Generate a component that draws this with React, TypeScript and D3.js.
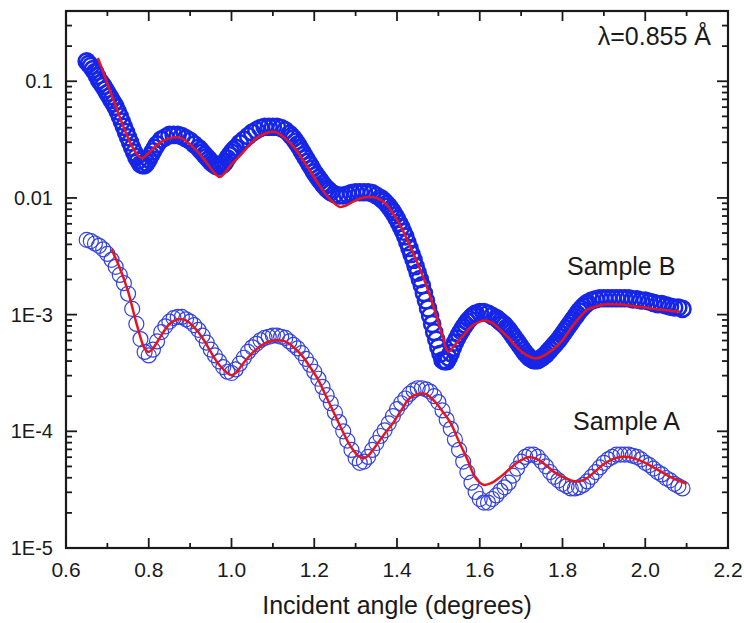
import React, { useEffect, useRef } from 'react';
import * as d3 from 'd3';

// measured reflectivity, [incident angle (deg), intensity]
const sampleA: [number, number][] = [
  [0.65, 4.37e-3], [0.66, 4.27e-3], [0.67, 4.07e-3], [0.68, 3.89e-3], [0.69, 3.63e-3], [0.70, 3.31e-3], [0.71, 2.95e-3], [0.72, 2.57e-3], [0.73, 2.19e-3], [0.74, 1.86e-3],
  [0.75, 1.51e-3], [0.76, 1.12e-3], [0.77, 8.32e-4], [0.78, 6.17e-4], [0.79, 4.79e-4], [0.80, 4.47e-4], [0.81, 5.01e-4], [0.82, 5.89e-4], [0.83, 7.08e-4], [0.84, 7.94e-4],
  [0.85, 8.71e-4], [0.86, 9.33e-4], [0.87, 9.55e-4], [0.88, 9.55e-4], [0.89, 9.12e-4], [0.90, 8.71e-4], [0.91, 8.13e-4], [0.92, 7.41e-4], [0.93, 6.61e-4], [0.94, 5.75e-4],
  [0.95, 5.01e-4], [0.96, 4.47e-4], [0.97, 3.98e-4], [0.98, 3.55e-4], [0.99, 3.24e-4], [1.00, 3.16e-4], [1.01, 3.39e-4], [1.02, 3.80e-4], [1.03, 4.27e-4], [1.04, 4.79e-4],
  [1.05, 5.25e-4], [1.06, 5.62e-4], [1.07, 6.03e-4], [1.08, 6.31e-4], [1.09, 6.46e-4], [1.10, 6.61e-4], [1.11, 6.61e-4], [1.12, 6.46e-4], [1.13, 6.31e-4], [1.14, 5.89e-4],
  [1.15, 5.50e-4], [1.16, 5.13e-4], [1.17, 4.68e-4], [1.18, 4.17e-4], [1.19, 3.72e-4], [1.20, 3.24e-4], [1.21, 2.82e-4], [1.22, 2.40e-4], [1.23, 2.04e-4], [1.24, 1.74e-4],
  [1.25, 1.45e-4], [1.26, 1.20e-4], [1.27, 1.00e-4], [1.28, 8.32e-5], [1.29, 6.92e-5], [1.30, 5.89e-5], [1.31, 5.37e-5], [1.32, 5.50e-5], [1.33, 6.03e-5], [1.34, 6.92e-5],
  [1.35, 7.94e-5], [1.36, 9.12e-5], [1.37, 1.02e-4], [1.38, 1.17e-4], [1.39, 1.35e-4], [1.40, 1.55e-4], [1.41, 1.74e-4], [1.42, 1.91e-4], [1.43, 2.09e-4], [1.44, 2.24e-4],
  [1.45, 2.34e-4], [1.46, 2.34e-4], [1.47, 2.29e-4], [1.48, 2.19e-4], [1.49, 2.00e-4], [1.50, 1.78e-4], [1.51, 1.51e-4], [1.52, 1.26e-4], [1.53, 1.05e-4], [1.54, 8.51e-5],
  [1.55, 6.92e-5], [1.56, 5.50e-5], [1.57, 4.47e-5], [1.58, 3.63e-5], [1.59, 3.02e-5], [1.60, 2.63e-5], [1.61, 2.45e-5], [1.62, 2.45e-5], [1.63, 2.63e-5], [1.64, 2.82e-5],
  [1.65, 3.09e-5], [1.66, 3.31e-5], [1.67, 3.63e-5], [1.68, 4.17e-5], [1.69, 4.79e-5], [1.70, 5.50e-5], [1.71, 6.03e-5], [1.72, 6.31e-5], [1.73, 6.31e-5], [1.74, 6.03e-5],
  [1.75, 5.50e-5], [1.76, 5.01e-5], [1.77, 4.47e-5], [1.78, 4.07e-5], [1.79, 3.80e-5], [1.80, 3.55e-5], [1.81, 3.39e-5], [1.82, 3.24e-5], [1.83, 3.24e-5], [1.84, 3.31e-5],
  [1.85, 3.47e-5], [1.86, 3.72e-5], [1.87, 4.07e-5], [1.88, 4.47e-5], [1.89, 4.90e-5], [1.90, 5.37e-5], [1.91, 5.75e-5], [1.92, 6.03e-5], [1.93, 6.31e-5], [1.94, 6.31e-5],
  [1.95, 6.31e-5], [1.96, 6.31e-5], [1.97, 6.17e-5], [1.98, 6.03e-5], [1.99, 5.75e-5], [2.00, 5.37e-5], [2.01, 5.13e-5], [2.02, 4.79e-5], [2.03, 4.47e-5], [2.04, 4.27e-5],
  [2.05, 3.98e-5], [2.06, 3.80e-5], [2.07, 3.55e-5], [2.08, 3.39e-5], [2.09, 3.24e-5],
];

const sampleB: [number, number][] = [
  [0.65, 0.148], [0.66, 0.135], [0.67, 0.120], [0.68, 0.102], [0.69, 0.0912], [0.70, 0.0794], [0.71, 0.0692], [0.72, 0.0603], [0.73, 0.0501], [0.74, 0.0407],
  [0.75, 0.0331], [0.76, 0.0269], [0.77, 0.0224], [0.78, 0.0195], [0.79, 0.0191], [0.80, 0.0214], [0.81, 0.0251], [0.82, 0.0288], [0.83, 0.0316], [0.84, 0.0331],
  [0.85, 0.0347], [0.86, 0.0347], [0.87, 0.0347], [0.88, 0.0339], [0.89, 0.0324], [0.90, 0.0309], [0.91, 0.0288], [0.92, 0.0269], [0.93, 0.0245], [0.94, 0.0224],
  [0.95, 0.0204], [0.96, 0.0191], [0.97, 0.0186], [0.98, 0.0195], [0.99, 0.0219], [1.00, 0.0245], [1.01, 0.0269], [1.02, 0.0295], [1.03, 0.0316], [1.04, 0.0339],
  [1.05, 0.0363], [1.06, 0.0380], [1.07, 0.0398], [1.08, 0.0407], [1.09, 0.0407], [1.10, 0.0407], [1.11, 0.0407], [1.12, 0.0398], [1.13, 0.0380], [1.14, 0.0355],
  [1.15, 0.0324], [1.16, 0.0288], [1.17, 0.0251], [1.18, 0.0219], [1.19, 0.0191], [1.20, 0.0166], [1.21, 0.0148], [1.22, 0.0132], [1.23, 0.0120], [1.24, 0.0112],
  [1.25, 0.0107], [1.26, 0.0105], [1.27, 0.0105], [1.28, 0.0107], [1.29, 0.0110], [1.30, 0.0112], [1.31, 0.0112], [1.32, 0.0112], [1.33, 0.0112], [1.34, 0.0110],
  [1.35, 0.0105], [1.36, 0.0100], [1.37, 0.00933], [1.38, 0.00851], [1.39, 0.00759], [1.40, 0.00661], [1.41, 0.00562], [1.42, 0.00468], [1.43, 0.00372], [1.44, 0.00295],
  [1.45, 0.00229], [1.46, 0.00178], [1.47, 0.00132], [1.48, 9.77e-4], [1.49, 7.08e-4], [1.50, 5.25e-4], [1.51, 4.07e-4], [1.52, 3.98e-4], [1.53, 4.68e-4], [1.54, 5.75e-4],
  [1.55, 6.76e-4], [1.56, 7.76e-4], [1.57, 8.71e-4], [1.58, 9.55e-4], [1.59, 1.02e-3], [1.60, 1.05e-3], [1.61, 1.05e-3], [1.62, 1.02e-3], [1.63, 9.77e-4], [1.64, 9.33e-4],
  [1.65, 8.71e-4], [1.66, 8.13e-4], [1.67, 7.41e-4], [1.68, 6.61e-4], [1.69, 5.89e-4], [1.70, 5.25e-4], [1.71, 4.68e-4], [1.72, 4.27e-4], [1.73, 4.07e-4], [1.74, 4.07e-4],
  [1.75, 4.27e-4], [1.76, 4.57e-4], [1.77, 5.01e-4], [1.78, 5.50e-4], [1.79, 6.03e-4], [1.80, 6.76e-4], [1.81, 7.59e-4], [1.82, 8.51e-4], [1.83, 9.55e-4], [1.84, 1.07e-3],
  [1.85, 1.17e-3], [1.86, 1.26e-3], [1.87, 1.32e-3], [1.88, 1.35e-3], [1.89, 1.38e-3], [1.90, 1.38e-3], [1.91, 1.38e-3], [1.92, 1.38e-3], [1.93, 1.38e-3], [1.94, 1.38e-3],
  [1.95, 1.38e-3], [1.96, 1.38e-3], [1.97, 1.35e-3], [1.98, 1.35e-3], [1.99, 1.32e-3], [2.00, 1.32e-3], [2.01, 1.29e-3], [2.02, 1.26e-3], [2.03, 1.23e-3], [2.04, 1.23e-3],
  [2.05, 1.20e-3], [2.06, 1.17e-3], [2.07, 1.15e-3], [2.08, 1.15e-3], [2.09, 1.12e-3],
];

// sample B is measured more finely where it falls steeply
const sampleBExtra: [number, number][] = [
  [0.655, 0.141], [0.665, 0.127], [0.675, 0.111], [0.685, 0.0966], [0.695, 0.0851], [0.705, 0.0741], [0.715, 0.0646], [0.725, 0.0550], [0.735, 0.0452], [0.745, 0.0367],
  [0.755, 0.0299], [0.765, 0.0245], [0.775, 0.0209], [0.785, 0.0191], [0.795, 0.0200], [0.805, 0.0232], [0.815, 0.0269],
  [0.925, 0.0257], [0.935, 0.0234], [0.945, 0.0214], [0.955, 0.0197], [0.965, 0.0186], [0.975, 0.0188], [0.985, 0.0204], [0.995, 0.0232], [1.005, 0.0257],
  [1.145, 0.0339], [1.155, 0.0305], [1.165, 0.0269], [1.175, 0.0234], [1.185, 0.0204], [1.195, 0.0178], [1.205, 0.0157], [1.215, 0.0140], [1.225, 0.0126], [1.235, 0.0116],
  [1.365, 0.00966], [1.375, 0.00891], [1.385, 0.00804], [1.395, 0.00708], [1.405, 0.00610], [1.415, 0.00513], [1.425, 0.00417], [1.435, 0.00331], [1.445, 0.00260], [1.455, 0.00202],
  [1.465, 0.00153], [1.475, 0.00113], [1.485, 8.32e-4], [1.495, 6.10e-4], [1.505, 4.62e-4], [1.515, 3.98e-4], [1.525, 4.27e-4], [1.535, 5.19e-4], [1.545, 6.24e-4], [1.555, 7.24e-4],
  [1.565, 8.22e-4], [1.575, 9.12e-4], [1.585, 9.89e-4],
  [1.645, 9.02e-4], [1.655, 8.41e-4], [1.665, 7.76e-4], [1.675, 7.00e-4], [1.685, 6.24e-4], [1.695, 5.56e-4], [1.705, 4.95e-4], [1.715, 4.47e-4], [1.725, 4.17e-4], [1.735, 4.07e-4],
  [1.745, 4.17e-4], [1.755, 4.42e-4], [1.765, 4.79e-4], [1.775, 5.25e-4], [1.785, 5.75e-4], [1.795, 6.38e-4], [1.805, 7.16e-4], [1.815, 8.04e-4], [1.825, 9.02e-4], [1.835, 1.01e-3],
  [1.845, 1.12e-3], [1.855, 1.22e-3],
];

// fitted curves
const fitA: [number, number][] = [
  [0.71, 3.63e-3], [0.73, 2.51e-3], [0.75, 1.58e-3], [0.77, 8.51e-4], [0.79, 5.13e-4], [0.80, 4.79e-4], [0.81, 5.13e-4], [0.83, 6.61e-4], [0.85, 8.32e-4], [0.87, 9.12e-4],
  [0.89, 8.91e-4], [0.91, 7.76e-4], [0.93, 6.31e-4], [0.95, 4.79e-4], [0.97, 3.72e-4], [0.99, 3.16e-4], [1.00, 3.02e-4], [1.01, 3.16e-4], [1.03, 3.89e-4], [1.05, 4.68e-4],
  [1.07, 5.37e-4], [1.09, 5.89e-4], [1.11, 6.03e-4], [1.13, 5.89e-4], [1.15, 5.25e-4], [1.17, 4.47e-4], [1.19, 3.55e-4], [1.21, 2.75e-4], [1.23, 1.95e-4], [1.25, 1.38e-4],
  [1.27, 9.77e-5], [1.29, 7.24e-5], [1.31, 6.03e-5], [1.32, 5.89e-5], [1.33, 6.17e-5], [1.35, 7.59e-5], [1.37, 9.55e-5], [1.39, 1.17e-4], [1.41, 1.51e-4], [1.43, 1.91e-4],
  [1.45, 2.09e-4], [1.46, 2.11e-4], [1.47, 2.09e-4], [1.49, 1.82e-4], [1.51, 1.48e-4], [1.53, 1.17e-4], [1.55, 8.13e-5], [1.57, 5.75e-5], [1.59, 3.98e-5], [1.61, 3.47e-5],
  [1.63, 3.63e-5], [1.65, 4.07e-5], [1.67, 4.68e-5], [1.69, 5.37e-5], [1.71, 5.89e-5], [1.72, 6.03e-5], [1.74, 5.75e-5], [1.76, 5.13e-5], [1.78, 4.47e-5], [1.80, 4.07e-5],
  [1.82, 3.80e-5], [1.84, 3.72e-5], [1.86, 3.98e-5], [1.88, 4.57e-5], [1.90, 5.25e-5], [1.92, 5.75e-5], [1.94, 6.03e-5], [1.96, 6.03e-5], [1.98, 5.75e-5], [2.00, 5.37e-5],
  [2.02, 4.90e-5], [2.04, 4.47e-5], [2.06, 4.07e-5], [2.08, 3.80e-5], [2.10, 3.55e-5],
];

const fitB: [number, number][] = [
  [0.677, 0.158], [0.69, 0.120], [0.70, 0.0955], [0.72, 0.0617], [0.74, 0.0398], [0.76, 0.0275], [0.775, 0.0229], [0.784, 0.0219], [0.795, 0.0234], [0.81, 0.0263],
  [0.83, 0.0302], [0.85, 0.0324], [0.866, 0.0331], [0.88, 0.0324], [0.90, 0.0288], [0.92, 0.0245], [0.94, 0.0200], [0.96, 0.0162], [0.972, 0.0151], [0.985, 0.0166],
  [1.00, 0.0195], [1.02, 0.0229], [1.04, 0.0275], [1.06, 0.0324], [1.08, 0.0355], [1.095, 0.0368], [1.11, 0.0363], [1.13, 0.0324], [1.15, 0.0275], [1.17, 0.0219],
  [1.19, 0.0170], [1.21, 0.0132], [1.23, 0.0105], [1.25, 0.00891], [1.262, 0.00838], [1.28, 0.00871], [1.30, 0.00955], [1.32, 0.0101], [1.335, 0.0102], [1.35, 0.0100],
  [1.37, 0.00912], [1.39, 0.00741], [1.41, 0.00562], [1.43, 0.00398], [1.45, 0.00275], [1.47, 0.00182], [1.49, 0.00112], [1.51, 6.61e-4], [1.524, 4.79e-4], [1.54, 5.50e-4],
  [1.56, 6.61e-4], [1.58, 7.94e-4], [1.60, 8.71e-4], [1.61, 8.91e-4], [1.63, 8.51e-4], [1.65, 7.41e-4], [1.67, 6.31e-4], [1.69, 5.25e-4], [1.71, 4.57e-4], [1.738, 4.22e-4],
  [1.76, 4.57e-4], [1.78, 5.13e-4], [1.80, 6.03e-4], [1.82, 7.59e-4], [1.84, 9.33e-4], [1.86, 1.10e-3], [1.88, 1.17e-3], [1.90, 1.22e-3], [1.92, 1.23e-3], [1.94, 1.22e-3],
  [1.96, 1.20e-3], [1.98, 1.17e-3], [2.00, 1.15e-3], [2.02, 1.12e-3], [2.04, 1.10e-3], [2.06, 1.08e-3], [2.084, 1.06e-3],
];

const xMajor = [0.6, 0.8, 1.0, 1.2, 1.4, 1.6, 1.8, 2.0, 2.2];
const xMinor = [0.7, 0.9, 1.1, 1.3, 1.5, 1.7, 1.9, 2.1];
const yMajor = [1e-5, 1e-4, 1e-3, 1e-2, 1e-1];
const yLabels = ['1E-5', '1E-4', '1E-3', '0.01', '0.1'];

const FONT = "Arial, 'Liberation Sans', sans-serif";

export default function App() {
  const ref = useRef<SVGSVGElement>(null);

  useEffect(() => {
    const svg = d3.select(ref.current);
    svg.selectAll('*').remove();

    const left = 66, right = 728, top = 11, bottom = 548;
    const x = d3.scaleLinear().domain([0.6, 2.2]).range([left, right]);
    const y = d3.scaleLog().domain([1e-5, 0.4]).range([bottom, top]);

    const line = d3.line<[number, number]>()
      .x(d => x(d[0]))
      .y(d => y(d[1]))
      .curve(d3.curveCatmullRom.alpha(0.5));

    // sample B
    const pointsB = sampleB.concat(sampleBExtra).sort((a, b) => a[0] - b[0]);
    svg.append('g').selectAll('circle').data(pointsB).join('circle')
      .attr('cx', d => x(d[0]))
      .attr('cy', d => y(d[1]))
      .attr('r', 8)
      .attr('fill', 'none')
      .attr('stroke', '#1626e8')
      .attr('stroke-width', 2.6);
    svg.append('path')
      .attr('d', line(fitB))
      .attr('fill', 'none')
      .attr('stroke', '#e8141c')
      .attr('stroke-width', 2.5);

    // sample A
    svg.append('g').selectAll('circle').data(sampleA).join('circle')
      .attr('cx', d => x(d[0]))
      .attr('cy', d => y(d[1]))
      .attr('r', 7.5)
      .attr('fill', 'none')
      .attr('stroke', '#3442dc')
      .attr('stroke-width', 1.2);
    svg.append('path')
      .attr('d', line(fitA))
      .attr('fill', 'none')
      .attr('stroke', '#e8141c')
      .attr('stroke-width', 2.5);

    // frame and ticks
    const axis = svg.append('g').attr('stroke', '#1a1a1a').attr('stroke-width', 1.8);
    axis.append('rect')
      .attr('x', left).attr('y', top)
      .attr('width', right - left).attr('height', bottom - top)
      .attr('fill', 'none').attr('stroke-width', 2.2);

    const xTicks = [...xMajor.map(v => ({ v, len: 10 })), ...xMinor.map(v => ({ v, len: 5 }))];
    axis.selectAll('.xb').data(xTicks).join('line')
      .attr('x1', d => x(d.v)).attr('x2', d => x(d.v))
      .attr('y1', bottom).attr('y2', d => bottom - d.len);
    axis.selectAll('.xt').data(xTicks).join('line')
      .attr('x1', d => x(d.v)).attr('x2', d => x(d.v))
      .attr('y1', top).attr('y2', d => top + d.len);

    const yTicks = y.ticks().map(v => ({ v, len: yMajor.some(m => Math.abs(m - v) / m < 1e-6) ? 11 : 6 }));
    axis.selectAll('.yl').data(yTicks).join('line')
      .attr('x1', left).attr('x2', d => left + d.len)
      .attr('y1', d => y(d.v)).attr('y2', d => y(d.v));
    axis.selectAll('.yr').data(yTicks).join('line')
      .attr('x1', right).attr('x2', d => right - d.len)
      .attr('y1', d => y(d.v)).attr('y2', d => y(d.v));

    // tick labels
    svg.append('g').selectAll('text').data(xMajor).join('text')
      .attr('x', d => x(d))
      .attr('y', 577)
      .attr('text-anchor', 'middle')
      .attr('font-family', FONT).attr('font-size', 21).attr('fill', '#1a1a1a')
      .text(d => d.toFixed(1));
    svg.append('g').selectAll('text').data(yMajor).join('text')
      .attr('x', 53)
      .attr('y', d => y(d) + 7)
      .attr('text-anchor', 'end')
      .attr('font-family', FONT).attr('font-size', 20).attr('fill', '#1a1a1a')
      .text((d, i) => yLabels[i]);

    svg.append('text')
      .attr('x', (left + right) / 2).attr('y', 614)
      .attr('text-anchor', 'middle')
      .attr('font-family', FONT).attr('font-size', 25).attr('fill', '#1a1a1a')
      .text('Incident angle (degrees)');

    const notes = [
      { t: 'λ=0.855 Å', x: 711, y: 45, anchor: 'end' },
      { t: 'Sample B', x: 567, y: 275, anchor: 'start' },
      { t: 'Sample A', x: 573, y: 430, anchor: 'start' },
    ];
    svg.append('g').selectAll('text').data(notes).join('text')
      .attr('x', d => d.x).attr('y', d => d.y)
      .attr('text-anchor', d => d.anchor)
      .attr('font-family', FONT).attr('font-size', 25).attr('fill', '#1a1a1a')
      .text(d => d.t);
  }, []);

  return (
    <svg
      ref={ref}
      width={744}
      height={623}
      style={{ position: 'absolute', left: 0, top: 0, background: '#fff' }}
    />
  );
}
